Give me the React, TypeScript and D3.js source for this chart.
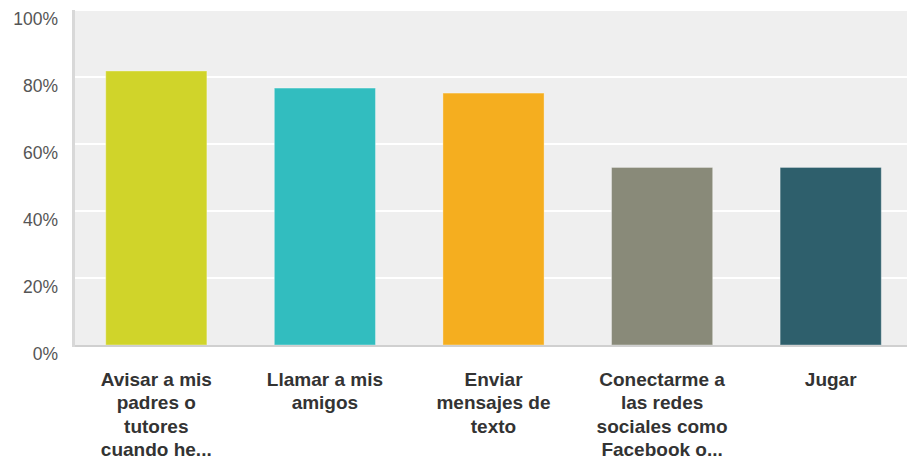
import React from "react";
import * as d3 from "d3";

const categories: string[][] = [
  ["Avisar a mis", "padres o", "tutores", "cuando he..."],
  ["Llamar a mis", "amigos"],
  ["Enviar", "mensajes de", "texto"],
  ["Conectarme a", "las redes", "sociales como", "Facebook o..."],
  ["Jugar"],
];
const values: number[] = [81.8, 76.7, 75.2, 53.0, 53.0];
const colors: string[] = ["#d0d42a", "#32bdbf", "#f5ae1f", "#898a79", "#2e5f6c"];
const yTicks: number[] = [0, 20, 40, 60, 80, 100];

const W = 907;
const H = 461;

export default function App() {
  const left = 72;
  const right = 915;
  const top = 10;
  const bottom = 345;
  const x = d3
    .scaleBand<number>()
    .domain(values.map((_, i) => i))
    .range([left, right])
    .paddingInner(0.4)
    .paddingOuter(0.2);
  const y = d3.scaleLinear().domain([0, 100]).range([bottom, top]);
  const font = "'Liberation Sans', Arial, sans-serif";

  return (
    <div style={{ position: "absolute", left: 0, top: 0 }}>
      <svg width={W} height={H} style={{ display: "block" }}>
        <rect x={left} y={top} width={W - left} height={bottom - top} fill="#efefef" />
        {yTicks.map((t) => (
          <g key={t}>
            {t > 0 && (
              <line x1={left} x2={W} y1={y(t)} y2={y(t)} stroke="#ffffff" strokeWidth={2} />
            )}
            <text
              x={58}
              y={y(t) + 14.5}
              textAnchor="end"
              fontFamily={font}
              fontSize={17.5}
              fill="#555555"
            >
              {`${t}%`}
            </text>
          </g>
        ))}
        {values.map((v, i) => (
          <rect
            key={i}
            x={x(i)!}
            y={y(v)}
            width={x.bandwidth()}
            height={bottom - y(v)}
            fill={colors[i]}
            stroke="rgba(255,255,255,0.35)"
            strokeWidth={1}
          />
        ))}
        <line x1={left} x2={W} y1={bottom + 1} y2={bottom + 1} stroke="#d0d0d0" strokeWidth={2} />
        <line x1={left + 1.5} x2={left + 1.5} y1={top} y2={bottom + 2} stroke="#d8d8d8" strokeWidth={3} />
        {categories.map((lines, i) => (
          <text
            key={i}
            textAnchor="middle"
            fontFamily={font}
            fontSize={19}
            fontWeight="bold"
            fill="#333333"
          >
            {lines.map((l, j) => (
              <tspan key={j} x={x(i)! + x.bandwidth() / 2} y={386 + j * 23.3}>
                {l}
              </tspan>
            ))}
          </text>
        ))}
      </svg>
    </div>
  );
}
